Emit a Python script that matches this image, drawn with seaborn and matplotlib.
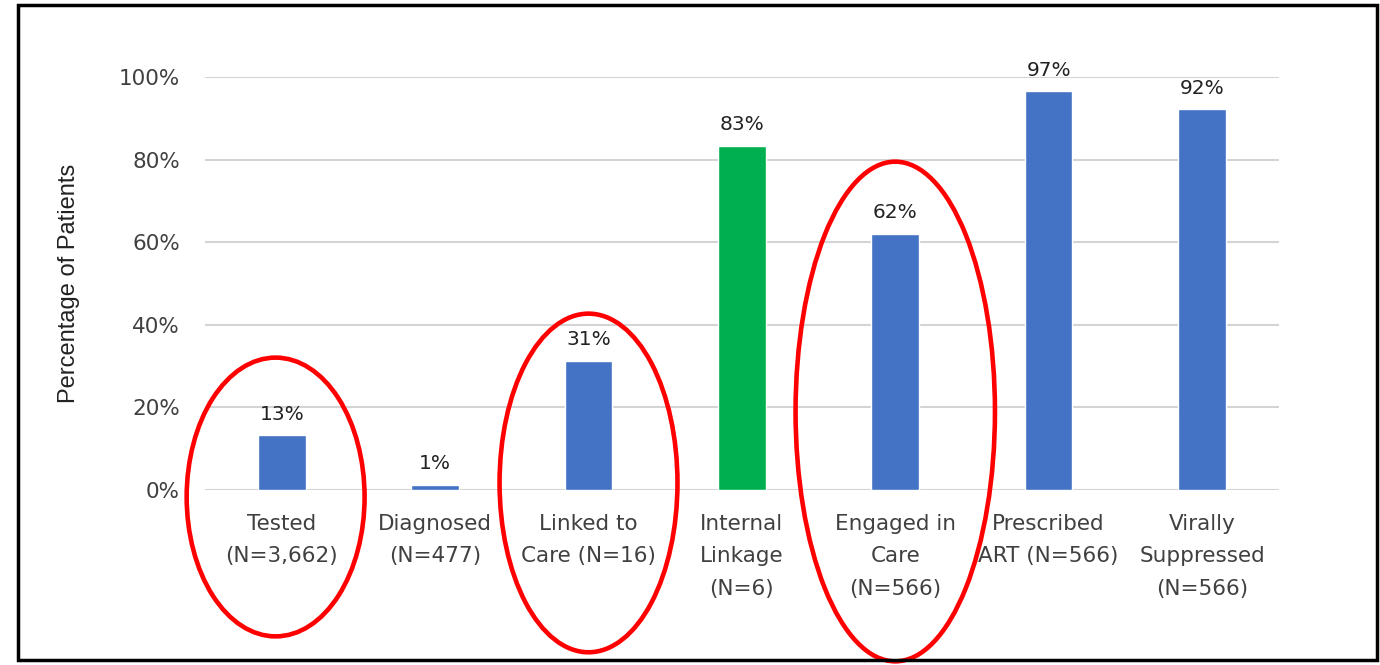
import numpy as np
import pandas as pd
import matplotlib
matplotlib.use("Agg")
import matplotlib.pyplot as plt
from matplotlib.patches import Ellipse, Rectangle
import seaborn as sns

# chart data
stages = [
    "Tested\n(N=3,662)",
    "Diagnosed\n(N=477)",
    "Linked to\nCare (N=16)",
    "Internal\nLinkage\n(N=6)",
    "Engaged in\nCare\n(N=566)",
    "Prescribed\nART (N=566)",
    "Virally\nSuppressed\n(N=566)",
]
percent = [13.2, 1.2, 31.25, 83.3, 62.0, 96.5, 92.2]
labels = ["13%", "1%", "31%", "83%", "62%", "97%", "92%"]
group = ["care", "care", "care", "internal", "care", "care", "care"]
# highlighted stages: (index, y centre, height in data units)
circled = [(0, -1.7, 67.5), (2, 1.7, 82.0), (4, 19.0, 121.0)]

df = pd.DataFrame({"stage": stages, "pct": percent, "group": group})

sns.set_theme(style="white")
plt.rcParams["font.family"] = ["DejaVu Sans"]

fig = plt.figure(figsize=(13.8, 6.65), dpi=100)
ax = fig.add_axes([0.1486, 0.2632, 0.778, 0.621])

sns.barplot(
    data=df, x="stage", y="pct", hue="group",
    palette={"care": "#4472C4", "internal": "#00B050"},
    width=0.31, dodge=False, legend=False, ax=ax, saturation=1,
)

ax.set_ylim(0, 100)
ax.set_xlim(-0.5, len(stages) - 0.5)
ax.set_yticks(np.arange(0, 101, 20))
ax.set_yticklabels([f"{v}%" for v in range(0, 101, 20)], fontsize=15.5, color="#404040")
ax.yaxis.grid(True, color="#d4d4d4", linewidth=1.5)
ax.set_axisbelow(True)
for s in ax.spines.values():
    s.set_visible(False)
ax.tick_params(axis="y", length=0, pad=18)
ax.tick_params(axis="x", length=0, pad=17)
ax.set_xticklabels(stages, fontsize=15.5, color="#404040", linespacing=1.78)
ax.set_xlabel("")
ax.set_ylabel("Percentage of Patients", fontsize=17, color="#222222",
              family=["Liberation Sans"], labelpad=28)

for i, (v, t) in enumerate(zip(percent, labels)):
    ax.text(i, v + 2.8, t, ha="center", va="bottom", fontsize=14.5,
            color="#222222", clip_on=False)

for i, yc, h in circled:
    w = 1.16 if i != 4 else 1.3
    ax.add_patch(Ellipse((i - 0.04 if i == 0 else i, yc), w, h, fill=False,
                         edgecolor="#ff0000", linewidth=3.3, clip_on=False))

fig.patches.append(Rectangle((0.013, 0.007), 0.985, 0.985, transform=fig.transFigure,
                             fill=False, edgecolor="black", linewidth=2.5))

fig.savefig("out.png", dpi=100)
